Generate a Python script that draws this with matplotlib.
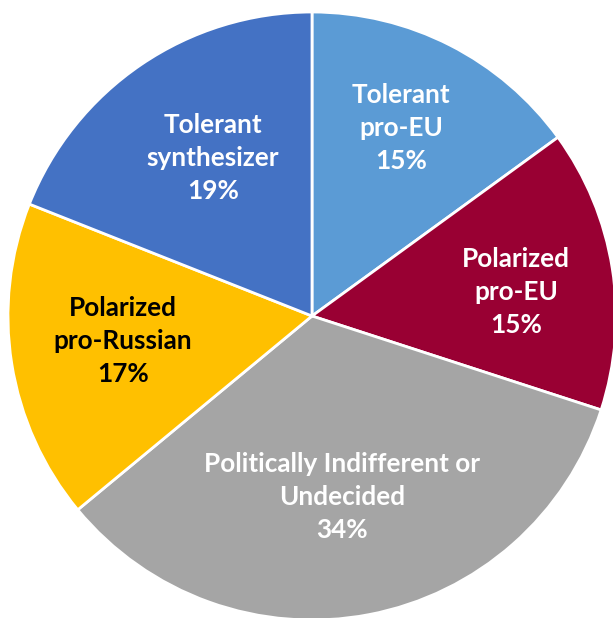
import matplotlib
matplotlib.use("Agg")
import matplotlib.pyplot as plt

categories = ["Tolerant\npro-EU", "Polarized\npro-EU", "Politically Indifferent or\nUndecided",
              "Polarized\npro-Russian", "Tolerant\nsynthesizer"]
values = [15, 15, 34, 17, 19]
colors = ["#5B9BD5", "#990033", "#A5A5A5", "#FFC000", "#4472C4"]
text_colors = ["white", "white", "white", "black", "white"]

W, H = 613, 618
fig = plt.figure(figsize=(W / 100, H / 100), dpi=100)
ax = fig.add_axes([0, 0, 1, 1])

cx, cy, r = 312, H - 316, 304
ax.pie(values, colors=colors, startangle=90, counterclock=False,
       center=(cx, cy), radius=r, frame=True,
       wedgeprops=dict(edgecolor="white", linewidth=2))
ax.set_xlim(0, W)
ax.set_ylim(0, H)
ax.set_aspect("equal")
ax.axis("off")

label_pos = [(401, 128), (516, 292), (342, 497), (123, 341), (213, 158)]
for cat, v, (x, y), tc in zip(categories, values, label_pos, text_colors):
    ax.text(x, H - y, f"{cat}\n{v}%", ha="center", va="center", color=tc,
            fontsize=18.8, fontweight="bold", family="Lato", linespacing=1.43)

fig.savefig("out.png", dpi=100)
